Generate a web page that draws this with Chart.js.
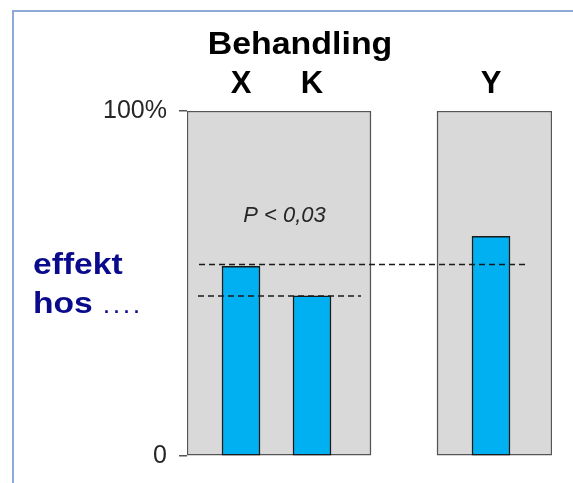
<!DOCTYPE html>
<html>
<head>
<meta charset="utf-8">
<script src="https://cdn.jsdelivr.net/npm/chart.js@4.4.1/dist/chart.umd.min.js"></script>
<style>
  html, body { margin: 0; padding: 0; background: #fff; }
  #wrap { position: relative; width: 573px; height: 483px; overflow: hidden; }
  #frame { position: absolute; left: 12px; top: 10px; width: 600px; height: 500px;
           border-top: 2px solid #8eaad8; border-left: 2px solid #8eaad8; }
  #chart { position: absolute; left: 0; top: 0; }
</style>
</head>
<body>
<div id="wrap">
  <div id="frame"></div>
  <canvas id="chart" width="573" height="483"></canvas>
</div>
<script>
// data
var categories = ['X', 'K', 'Y'];
var effectValues = [55, 46.4, 63.7];     // effekt, %
var refLevels = [55.5, 46.4];            // dashed reference levels
var yTicks = [0, 100];
var pText = 'P < 0,03';

// layout along the x axis (units 0..365 across the plot)
var barPos = [54, 125, 304];
var panels = [{ pos: 92, width: 184 }, { pos: 307.5, width: 115 }];
var refSpans = [[12, 341], [11, 174]];

var FONT = '"Liberation Sans", Arial, sans-serif';
var NAVY = '#0a0a8c';
Chart.defaults.font.family = FONT;

function drawText(ctx, txt, x, y, font, color, sx, align) {
    ctx.save();
    ctx.translate(x, y);
    ctx.scale(sx, 1);
    ctx.font = font;
    ctx.fillStyle = color;
    ctx.textAlign = align;
    ctx.textBaseline = 'alphabetic';
    ctx.fillText(txt, 0, 0);
    ctx.restore();
}

var textPlugin = {
    id: 'extraText',
    afterDraw: function(chart) {
        var ctx = chart.ctx;
        var xs = chart.scales.x, ys = chart.scales.y;
        drawText(ctx, 'Behandling', 300, 54, 'bold 32px ' + FONT, '#000', 1.06, 'center');
        drawText(ctx, 'effekt', 33, 274, 'bold 30px ' + FONT, NAVY, 1.12, 'left');
        drawText(ctx, 'hos', 33, 313, 'bold 30px ' + FONT, NAVY, 1.12, 'left');
        drawText(ctx, '. . . .', 104, 313, 'bold 18px ' + FONT, NAVY, 1, 'left');
        drawText(ctx, pText, xs.getPixelForValue(97.5), ys.getPixelForValue(67.7),
                 'italic 22px ' + FONT, '#262626', 1, 'center');
    }
};

function refLine(i) {
    return {
        type: 'line',
        label: 'ref' + i,
        data: refSpans[i].map(function(x) { return { x: x, y: refLevels[i] }; }),
        borderColor: '#1a1a1a',
        borderWidth: 1.5,
        borderDash: [6, 4],
        pointRadius: 0,
        fill: false,
        order: 0
    };
}

function panel(i) {
    return {
        label: 'panel' + i,
        data: [{ x: panels[i].pos, y: yTicks[1] }],
        backgroundColor: '#d9d9d9',
        borderColor: '#555555',
        borderWidth: 1.5,
        borderSkipped: false,
        barThickness: panels[i].width,
        grouped: false,
        order: 2 + i
    };
}

var ctx = document.getElementById('chart').getContext('2d');
var chart = new Chart(ctx, {
    type: 'bar',
    data: {
        datasets: [
            refLine(0),
            refLine(1),
            {
                label: 'effekt',
                data: categories.map(function(c, i) { return { x: barPos[i], y: effectValues[i] }; }),
                backgroundColor: '#00b0f0',
                borderColor: '#1a1a1a',
                borderWidth: 1.5,
                borderSkipped: false,
                barThickness: 38,
                grouped: false,
                order: 1
            },
            panel(0),
            panel(1)
        ]
    },
    options: {
        responsive: false,
        animation: false,
        layout: { padding: { left: 0, right: 21, top: 0, bottom: 25 } },
        plugins: {
            legend: { display: false },
            tooltip: { enabled: false },
            title: { display: false }
        },
        scales: {
            x: {
                type: 'linear',
                position: 'top',
                min: 0,
                max: 365,
                offset: false,
                afterBuildTicks: function(s) { s.ticks = barPos.map(function(v) { return { value: v }; }); },
                afterFit: function(s) { s.height = 111; },
                border: { display: false },
                grid: { display: false, drawTicks: false, offset: false },
                ticks: {
                    autoSkip: false,
                    maxRotation: 0,
                    padding: 8,
                    color: '#000',
                    font: { size: 31, weight: 'bold' },
                    callback: function(v, i) { return categories[i]; }
                }
            },
            y: {
                min: 0,
                max: 100,
                afterBuildTicks: function(s) { s.ticks = yTicks.map(function(v) { return { value: v }; }); },
                afterFit: function(s) { s.width = 187; },
                border: { display: false },
                grid: { drawOnChartArea: false, drawTicks: true, tickLength: 8, color: '#555555', lineWidth: 1.5 },
                ticks: {
                    padding: 12,
                    color: '#262626',
                    font: { size: 25 },
                    callback: function(v) { return v === 100 ? '100%' : String(v); }
                }
            }
        }
    },
    plugins: [textPlugin]
});
</script>
</body>
</html>
